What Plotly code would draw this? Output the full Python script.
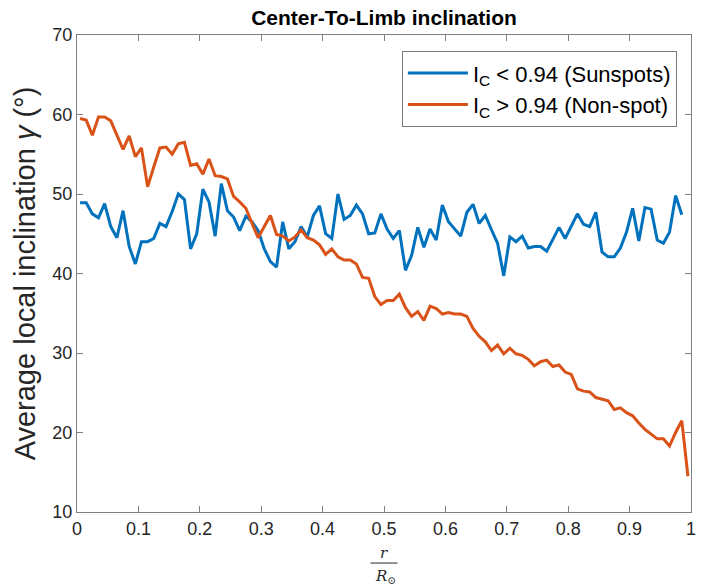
import numpy as np
import plotly.graph_objects as go

# Bin centres of r / R_sun (100 bins)
r_centers = np.round(np.arange(100) * 0.01 + 0.005, 3)

sunspots = [48.9, 48.9, 47.5, 47.0, 48.8, 45.9, 44.5, 47.9, 43.4, 41.2,
            44.0, 44.0, 44.4, 46.3, 45.9, 47.8, 50.0, 49.3, 43.1, 45.0,
            50.6, 49.0, 44.7, 51.3, 47.9, 47.1, 45.4, 47.2, 46.5, 45.4,
            43.1, 41.5, 40.8, 46.5, 43.1, 44.0, 45.9, 44.6, 47.3, 48.5,
            45.0, 44.4, 50.0, 46.8, 47.3, 48.6, 47.5, 45.0, 45.1, 47.5,
            45.6, 44.4, 45.4, 40.4, 42.3, 45.8, 43.3, 45.6, 44.2, 48.6,
            46.5, 45.6, 44.7, 47.7, 48.7, 46.3, 47.3, 45.5, 43.8, 39.7,
            44.6, 44.0, 44.7, 43.2, 43.4, 43.4, 42.8, 44.3, 45.8, 44.4,
            45.9, 47.5, 46.2, 45.9, 47.7, 42.7, 42.1, 42.1, 43.2, 45.2,
            48.2, 44.1, 48.3, 48.1, 44.2, 43.8, 45.2, 49.8, 47.4]

non_spot = [59.5, 59.3, 57.4, 59.7, 59.7, 59.2, 57.4, 55.6, 57.3, 54.7,
            55.8, 50.9, 53.4, 55.8, 55.9, 55.0, 56.3, 56.5, 53.6, 53.8,
            52.5, 54.4, 52.3, 52.2, 51.9, 49.7, 49.0, 48.2, 46.3, 44.5,
            45.9, 47.3, 44.9, 44.7, 44.1, 44.6, 45.5, 44.5, 44.2, 43.6,
            42.4, 43.1, 42.1, 41.7, 41.7, 41.2, 39.5, 39.4, 37.1, 36.1,
            36.6, 36.6, 37.4, 35.7, 34.6, 35.2, 34.1, 35.9, 35.6, 34.9,
            35.1, 34.9, 34.9, 34.6, 33.1, 32.1, 31.4, 30.3, 31.0, 29.9,
            30.6, 29.9, 29.7, 29.2, 28.4, 28.9, 29.1, 28.3, 28.5, 27.6,
            27.3, 25.5, 25.2, 25.1, 24.4, 24.2, 24.0, 22.9, 23.1, 22.5,
            22.1, 21.2, 20.4, 19.8, 19.2, 19.2, 18.3, 20.0, 21.5, 14.5]

x_ticks = [0, 0.1, 0.2, 0.3, 0.4, 0.5, 0.6, 0.7, 0.8, 0.9, 1]
x_tick_text = ["0", "0.1", "0.2", "0.3", "0.4", "0.5", "0.6", "0.7", "0.8", "0.9", "1"]
y_ticks = [10, 20, 30, 40, 50, 60, 70]

FONT = "Liberation Sans, Arial, Helvetica, sans-serif"
AX = "#808080"
TXT = "#262626"

fig = go.Figure()
fig.add_trace(go.Scatter(
    x=r_centers[:len(sunspots)], y=sunspots, mode="lines",
    line=dict(color="#0072BD", width=3),
    name="I<sub>C</sub> &lt; 0.94 (Sunspots)"))
fig.add_trace(go.Scatter(
    x=r_centers[:len(non_spot)], y=non_spot, mode="lines",
    line=dict(color="#D95319", width=3),
    name="I<sub>C</sub> &gt; 0.94 (Non-spot)"))

axis_common = dict(
    showgrid=False, zeroline=False, showline=True, linecolor=AX, linewidth=1,
    mirror="ticks", ticks="inside", ticklen=6, tickcolor=AX, tickwidth=1,
    tickfont=dict(family=FONT, size=18, color=TXT),
)

fig.update_layout(
    width=711, height=585,
    margin=dict(l=77, r=20, t=35, b=73),
    paper_bgcolor="white", plot_bgcolor="white",
    showlegend=True,
    title=dict(text="<b>Center-To-Limb inclination</b>", x=0.5, xref="paper",
               xanchor="center", y=0.97, yanchor="middle",
               font=dict(family=FONT, size=21, color="black")),
    xaxis=dict(range=[0, 1], tickvals=x_ticks, ticktext=x_tick_text, **axis_common),
    yaxis=dict(range=[10, 70], tickvals=y_ticks,
               title=dict(text="Average local inclination <i>γ</i> (°)",
                          font=dict(family=FONT, size=29, color=TXT), standoff=8),
               **axis_common),
    legend=dict(x=0.977, y=0.966, xanchor="right", yanchor="top",
                bgcolor="white", bordercolor="#7a7a7a", borderwidth=1,
                font=dict(family=FONT, size=22, color="black"),
                itemwidth=60),
)

# x-axis label: r / R_sun as a stacked fraction
fig.add_annotation(text="<i>r</i>", xref="paper", yref="paper", x=0.5, y=-0.085,
                   xanchor="center", yanchor="middle", showarrow=False,
                   font=dict(family="DejaVu Serif, serif", size=15, color=TXT))
fig.add_shape(type="line", xref="paper", yref="paper", x0=0.478, x1=0.522,
              y0=-0.107, y1=-0.107, line=dict(color=TXT, width=1))
fig.add_annotation(text="<i>R</i><sub>⊙</sub>", xref="paper", yref="paper", x=0.502, y=-0.135,
                   xanchor="center", yanchor="middle", showarrow=False,
                   font=dict(family="DejaVu Serif, serif", size=15, color=TXT))

fig.write_html("out.html")
